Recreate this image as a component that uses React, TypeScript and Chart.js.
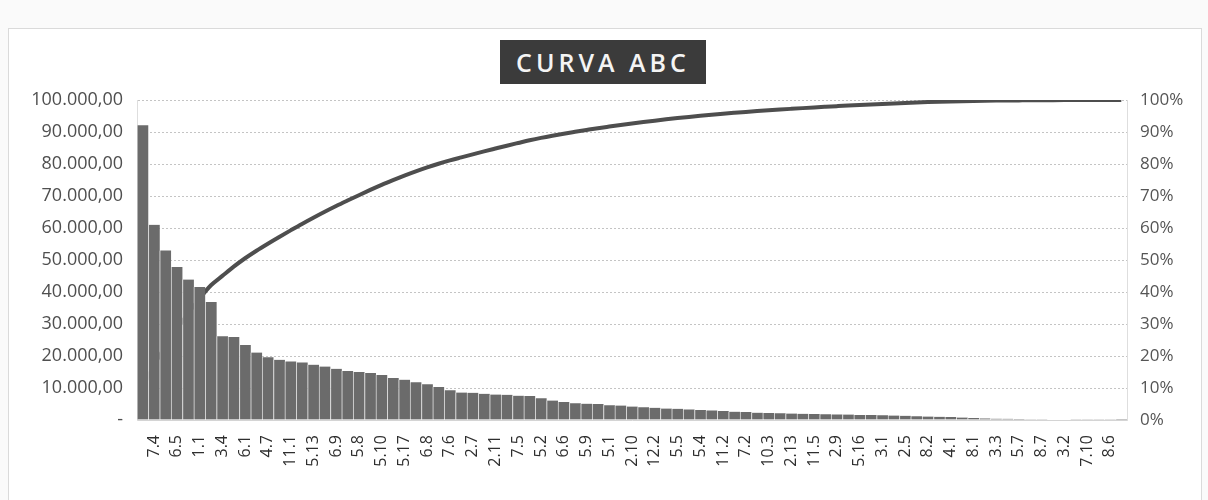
import React, { useEffect, useRef } from 'react';
import { Chart, registerables } from 'chart.js';

Chart.register(...registerables);

// Visible tick labels (every other category)
const tickLabels: string[] = [
  '7.4', '6.5', '1.1', '3.4', '6.1', '4.7', '11.1', '5.13', '6.9', '5.8',
  '5.10', '5.17', '6.8', '7.6', '2.7', '2.11', '7.5', '5.2', '6.6', '5.9',
  '5.1', '2.10', '12.2', '5.5', '5.4', '11.2', '7.2', '10.3', '2.13', '11.5',
  '2.9', '5.16', '3.1', '2.5', '8.2', '4.1', '8.1', '3.3', '5.7', '8.7',
  '3.2', '7.10', '8.6',
];

// Item values (R$), sorted descending
const values: number[] = [
  92100, 61000, 53000, 47800, 43900, 41600, 36900, 26200, 25900, 23400,
  21100, 19600, 18800, 18300, 18000, 17300, 16700, 16000, 15300, 15000,
  14700, 14100, 13100, 12600, 11800, 11200, 10300, 9300, 8600, 8500,
  8200, 7950, 7900, 7600, 7500, 6800, 6100, 5600, 5200, 5100,
  5000, 4600, 4500, 4200, 4000, 3800, 3600, 3500, 3300, 3100,
  3000, 2800, 2600, 2500, 2300, 2200, 2100, 2000, 1950, 1900,
  1800, 1750, 1700, 1600, 1550, 1500, 1400, 1300, 1200, 1100,
  1000, 900, 750, 600, 500, 420, 360, 300, 250, 200,
  170, 140, 110, 80, 60, 40, 20,
];

// Categories: labels sit on the odd positions, the others are unlabeled
const categories: string[] = values.map((_, i) =>
  i % 2 === 1 ? tickLabels[(i - 1) / 2] ?? '' : ''
);

const leftTicks: number[] = [0, 10000, 20000, 30000, 40000, 50000, 60000, 70000, 80000, 90000, 100000];
const rightTicks: number[] = [0, 10, 20, 30, 40, 50, 60, 70, 80, 90, 100];

const total = values.reduce((a, b) => a + b, 0);
let running = 0;
const cumulativePct: number[] = values.map((v) => {
  running += v;
  return (running / total) * 100;
});

const fmtBR = (v: number): string => {
  if (v === 0) return '-';
  const s = Math.round(v).toString().replace(/\B(?=(\d{3})+(?!\d))/g, '.');
  return s + ',00';
};

const FONT = "'Open Sans', 'Liberation Sans', sans-serif";

export default function App() {
  const canvasRef = useRef<HTMLCanvasElement | null>(null);

  useEffect(() => {
    if (!canvasRef.current) return;
    const chart = new Chart(canvasRef.current, {
      data: {
        labels: categories,
        datasets: [
          {
            type: 'bar',
            label: 'Valor',
            data: values,
            yAxisID: 'y',
            backgroundColor: '#6b6b6b',
            borderColor: '#d6d6d6',
            borderWidth: { left: 1, right: 0, top: 0, bottom: 0 },
            borderSkipped: false,
            barPercentage: 1,
            categoryPercentage: 1,
            order: 1,
          },
          {
            type: 'line',
            label: '% Acumulado',
            data: cumulativePct,
            yAxisID: 'y1',
            borderColor: '#4e4e4e',
            borderWidth: 4,
            pointRadius: 0,
            tension: 0.4,
            cubicInterpolationMode: 'monotone',
            fill: false,
            order: 2,
          },
        ],
      } as any,
      options: {
        responsive: false,
        animation: false,
        layout: { padding: { top: 100, left: 0, right: 0, bottom: 0 } },
        plugins: {
          legend: { display: false },
          tooltip: { enabled: false },
          title: { display: false },
        },
        scales: {
          x: {
            grid: { display: false, drawTicks: false },
            border: { display: true, color: '#d4d4d4' },
            ticks: {
              autoSkip: false,
              maxRotation: 90,
              minRotation: 90,
              padding: 15,
              color: '#2e2e2e',
              font: { family: FONT, size: 16 },
            },
            afterFit: (s: any) => {
              s.height = 80;
            },
          },
          y: {
            position: 'left',
            min: 0,
            max: 100000,
            afterBuildTicks: (s: any) => {
              s.ticks = leftTicks.map((v) => ({ value: v }));
            },
            ticks: {
              padding: 14,
              color: '#4f4f4f',
              font: { family: FONT, size: 18 },
              callback: (v: any) => fmtBR(Number(v)),
            },
            grid: { color: '#c4c4c4', lineWidth: 1, drawTicks: false },
            border: { display: true, color: '#dedede', dash: [2, 2] },
            afterFit: (s: any) => {
              s.width = 137;
            },
          },
          y1: {
            position: 'right',
            min: 0,
            max: 100,
            afterBuildTicks: (s: any) => {
              s.ticks = rightTicks.map((v) => ({ value: v }));
            },
            ticks: {
              padding: 13,
              color: '#555555',
              font: { family: FONT, size: 17 },
              callback: (v: any) => `${v}%`,
            },
            grid: { display: false, drawTicks: false },
            border: { display: true, color: '#dedede' },
            afterFit: (s: any) => {
              s.width = 81;
            },
          },
        },
      } as any,
    });
    return () => chart.destroy();
  }, []);

  return (
    <div
      style={{
        position: 'fixed',
        left: 0,
        top: 0,
        width: 1208,
        height: 500,
        background: '#fafafa',
        overflow: 'hidden',
      }}
    >
      <div
        style={{
          position: 'absolute',
          left: 8,
          top: 28,
          width: 1192,
          height: 480,
          border: '1px solid #dadada',
          background: '#ffffff',
        }}
      />
      <canvas
        ref={canvasRef}
        width={1208}
        height={500}
        style={{ position: 'absolute', left: 0, top: 0, display: 'block' }}
      />
      <div
        style={{
          position: 'absolute',
          left: 500,
          top: 40,
          width: 206,
          height: 44,
          background: '#3b3b3b',
          color: '#f4f4f4',
          fontFamily: FONT,
          fontWeight: 600,
          fontSize: 25,
          letterSpacing: 4,
          lineHeight: '44px',
          textAlign: 'center',
          whiteSpace: 'nowrap',
        }}
      >
        CURVA ABC
      </div>
    </div>
  );
}
